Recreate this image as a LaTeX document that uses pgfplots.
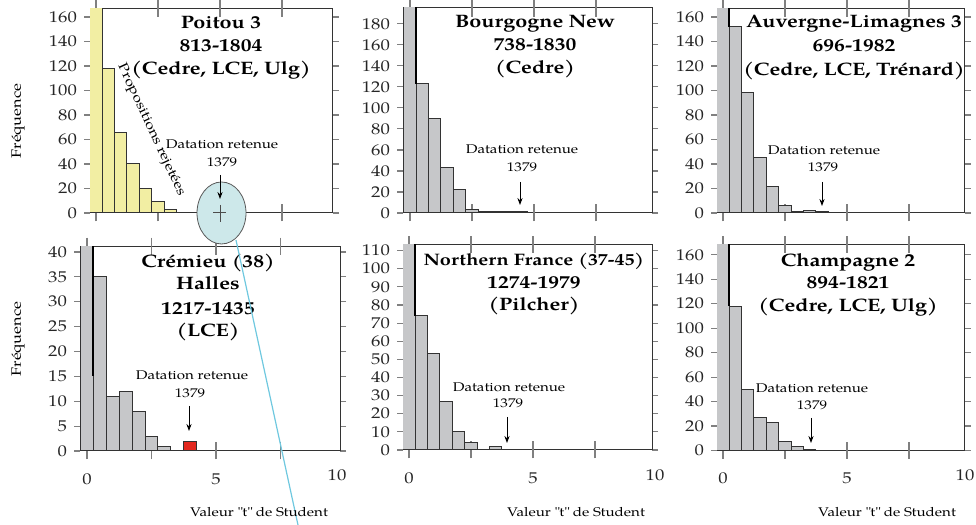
\documentclass[border=0pt]{standalone}
\usepackage{fontspec}
\setmainfont[FakeStretch=1.2]{TeX Gyre Pagella}
\usepackage{pgfplots}
\pgfplotsset{compat=1.18}
\usetikzlibrary{arrows.meta}

\definecolor{bargray}{HTML}{C6C7C9}
\definecolor{baryellow}{HTML}{F2EEA3}
\definecolor{barred}{HTML}{E3281F}
\definecolor{edge}{HTML}{333333}
\definecolor{tickgray}{HTML}{808080}
\definecolor{cyanfill}{HTML}{CDE8EA}
\definecolor{cyanline}{HTML}{6FC8DF}

\newcommand\tfont{\fontsize{9}{10}\selectfont\bfseries}
\newcommand\sfont{\fontsize{6.3}{7}\selectfont}
\newcommand\kfont{\fontsize{7.8}{8}\selectfont}

\pgfplotsset{
  panel/.style={
    scale only axis, anchor=south west, clip=true,
    axis line style={draw=edge, line width=0.5pt},
    ymin=0,
    tick align=outside, major tick length=3pt,
    tick style={draw=tickgray, line width=0.6pt},
    xtick=\empty,
    extra x ticks={0,2.5,5,7.5},
    extra x tick style={tick align=center, major tick length=8.5pt},
    extra x tick labels={},
    yticklabel style={font=\kfont, text=black!85},
    xticklabel style={font=\kfont, text=black!85, yshift=-3.5pt},
    /pgf/number format/assume math mode=true,
  },
  hbar/.style={ybar, bar width=0.5, bar shift=0pt, fill=#1, draw=edge, line width=0.5pt},
  edgeline/.style={draw=black, line width=1pt},
}

\begin{document}
\begin{tikzpicture}
\path[use as bounding box] (0,0) rectangle (488pt,262.5pt);

% ---------- top left: Poitou 3
\begin{axis}[panel, at={(45pt,156pt)}, width=121.5pt, height=102.5pt,
  xmin=-0.24, xmax=9.56, ymax=167.3, ytick={0,20,...,160}]
\addplot[hbar=baryellow] coordinates {(0,250) (0.5,118) (1,66) (1.5,40) (2,20) (2.5,9) (3,3)};
\end{axis}

% ---------- top middle: Bourgogne New
\begin{axis}[panel, at={(201.5pt,156pt)}, width=124.5pt, height=102.5pt,
  xmin=-0.28, xmax=9.76, ymax=195, ytick={0,20,...,180}]
\addplot[hbar=bargray] coordinates {(0,250) (0.5,123) (1,90) (1.5,43) (2,22) (2.5,3) (3,1) (3.5,1) (4,1) (4.5,1)};
\addplot[edgeline] coordinates {(0.25,250) (0.25,123)};
\end{axis}

% ---------- top right: Auvergne-Limagnes 3
\begin{axis}[panel, at={(358.5pt,156pt)}, width=124pt, height=102.5pt,
  xmin=-0.24, xmax=9.76, ymax=167.3, ytick={0,20,...,160}]
\addplot[hbar=bargray] coordinates {(0,250) (0.5,152) (1,98) (1.5,45) (2,22) (2.5,6) (3,1) (3.5,2) (4,1)};
\addplot[edgeline] coordinates {(0.25,250) (0.25,152)};
\end{axis}

% ---------- bottom left: Cremieu
\begin{axis}[panel, at={(40pt,37pt)}, width=130pt, height=102.5pt,
  xmin=-0.27, xmax=9.81, ymax=41.2, ytick={0,5,...,40},
  extra x tick labels={0,,5,}]
\addplot[hbar=bargray] coordinates {(0,60) (0.5,35) (1,11) (1.5,12) (2,8) (2.5,3) (3,1)};
\addplot[hbar=barred] coordinates {(4,2)};
\addplot[edgeline] coordinates {(0.25,60) (0.25,15)};
\end{axis}

% ---------- bottom middle: Northern France
\begin{axis}[panel, at={(201.5pt,37.5pt)}, width=124.5pt, height=102.5pt,
  xmin=-0.24, xmax=9.8, ymax=113.1, ytick={0,10,...,110},
  extra x tick labels={0,,5,}]
\addplot[hbar=bargray] coordinates {(0,200) (0.5,74) (1,53) (1.5,27) (2,10) (2.5,4) (3,0.5) (3.5,2) (4,0.5)};
\addplot[edgeline] coordinates {(0.25,200) (0.25,74)};
\end{axis}

% ---------- bottom right: Champagne 2
\begin{axis}[panel, at={(358.5pt,37.25pt)}, width=124pt, height=102.75pt,
  xmin=-0.24, xmax=9.76, ymax=168, ytick={0,20,...,160},
  extra x tick labels={0,,5,}]
\addplot[hbar=bargray] coordinates {(0,250) (0.5,118) (1,50) (1.5,27) (2,23) (2.5,7) (3,3) (3.5,1)};
\addplot[edgeline] coordinates {(0.25,250) (0.25,118)};
\end{axis}

% ---------- annotations (pixel grid of the reference)
\begin{scope}[x=0.5pt, y=-0.5pt, yshift=262.5pt]
  % titles
  \node[anchor=base, font=\tfont] at (221,29) {Poitou 3};
  \node[anchor=base, font=\tfont] at (221,52) {813-1804};
  \node[anchor=base, font=\tfont] at (221,75) {(Cedre, LCE, Ulg)};
  \node[anchor=base, font=\tfont] at (535,28) {Bourgogne New};
  \node[anchor=base, font=\tfont] at (535,51) {738-1830};
  \node[anchor=base, font=\tfont] at (535,74) {(Cedre)};
  \node[anchor=base, font=\tfont] at (854,28) {Auvergne-Limagnes 3};
  \node[anchor=base, font=\tfont] at (854,52) {696-1982};
  \node[anchor=base, font=\tfont] at (854,76) {(Cedre, LCE, Trénard)};
  \node[anchor=base, font=\tfont] at (208,268) {Crémieu (38)};
  \node[anchor=base, font=\tfont] at (208,290) {Halles};
  \node[anchor=base, font=\tfont] at (208,315) {1217-1435};
  \node[anchor=base, font=\tfont] at (208,337) {(LCE)};
  \node[anchor=base, font=\fontsize{8.3}{9}\selectfont\bfseries] at (534,266) {Northern France (37-45)};
  \node[anchor=base, font=\tfont] at (534,289) {1274-1979};
  \node[anchor=base, font=\tfont] at (534,311) {(Pilcher)};
  \node[anchor=base, font=\tfont] at (848,267) {Champagne 2};
  \node[anchor=base, font=\tfont] at (848,289) {894-1821};
  \node[anchor=base, font=\tfont] at (848,312) {(Cedre, LCE, Ulg)};
  % rejected proposals
  \node[rotate=-65, font=\fontsize{6.6}{7}\selectfont, inner sep=0pt] at (151,130) {Propositions rejetées};
  % cyan overlay
  \draw[cyanline, line width=0.6pt] (236,240) -- (298,525);
  \filldraw[fill=cyanfill, draw=black!65, line width=0.4pt] (221.5,213) ellipse [x radius=12.25pt, y radius=15.5pt];
  \draw[black!70, line width=0.5pt] (213,213) -- (226,213) (220,205) -- (220,222);
  % datation retenue
  \node[anchor=base, font=\sfont] at (222,149) {Datation retenue};
  \node[anchor=base, font=\sfont] at (222,167) {1379};
  \draw[-{Stealth[length=3.5pt,width=2.6pt]}, line width=0.4pt] (220,175) -- (220,199);
  \node[anchor=base, font=\sfont] at (522,154) {Datation retenue};
  \node[anchor=base, font=\sfont] at (522,172) {1379};
  \draw[-{Stealth[length=3.5pt,width=2.6pt]}, line width=0.4pt] (520,182) -- (520,205);
  \node[anchor=base, font=\sfont] at (824,155) {Datation retenue};
  \node[anchor=base, font=\sfont] at (823,172) {1379};
  \draw[-{Stealth[length=3.5pt,width=2.6pt]}, line width=0.4pt] (822,182) -- (822,206);
  \node[anchor=base, font=\sfont] at (192,380) {Datation retenue};
  \node[anchor=base, font=\sfont] at (190,398) {1379};
  \draw[-{Stealth[length=3.5pt,width=2.6pt]}, line width=0.4pt] (189,406) -- (189,431);
  \node[anchor=base, font=\sfont] at (509,392) {Datation retenue};
  \node[anchor=base, font=\sfont] at (508,408) {1379};
  \draw[-{Stealth[length=3.5pt,width=2.6pt]}, line width=0.4pt] (507,417) -- (507,443);
  \node[anchor=base, font=\sfont] at (812,393) {Datation retenue};
  \node[anchor=base, font=\sfont] at (812,410) {1379};
  \draw[-{Stealth[length=3.5pt,width=2.6pt]}, line width=0.4pt] (811,418) -- (811,443);
  % axis labels
  \node[rotate=90, font=\fontsize{6.8}{7}\selectfont] at (18,121) {Fréquence};
  \node[rotate=90, font=\fontsize{6.8}{7}\selectfont] at (18,339) {Fréquence};
  \node[anchor=base east, font=\sfont] at (335,517) {Valeur \textquotedbl t\textquotedbl{} de Student};
  \node[anchor=base east, font=\sfont] at (652,517) {Valeur \textquotedbl t\textquotedbl{} de Student};
  \node[anchor=base east, font=\sfont] at (963,517) {Valeur \textquotedbl t\textquotedbl{} de Student};
  % last x tick labels
  \node[anchor=base, font=\kfont, text=black!85] at (337,481) {10};
  \node[anchor=base, font=\kfont, text=black!85] at (655,481) {10};
  \node[anchor=base, font=\kfont, text=black!85] at (965,481) {10};
\end{scope}
\end{tikzpicture}
\end{document}
